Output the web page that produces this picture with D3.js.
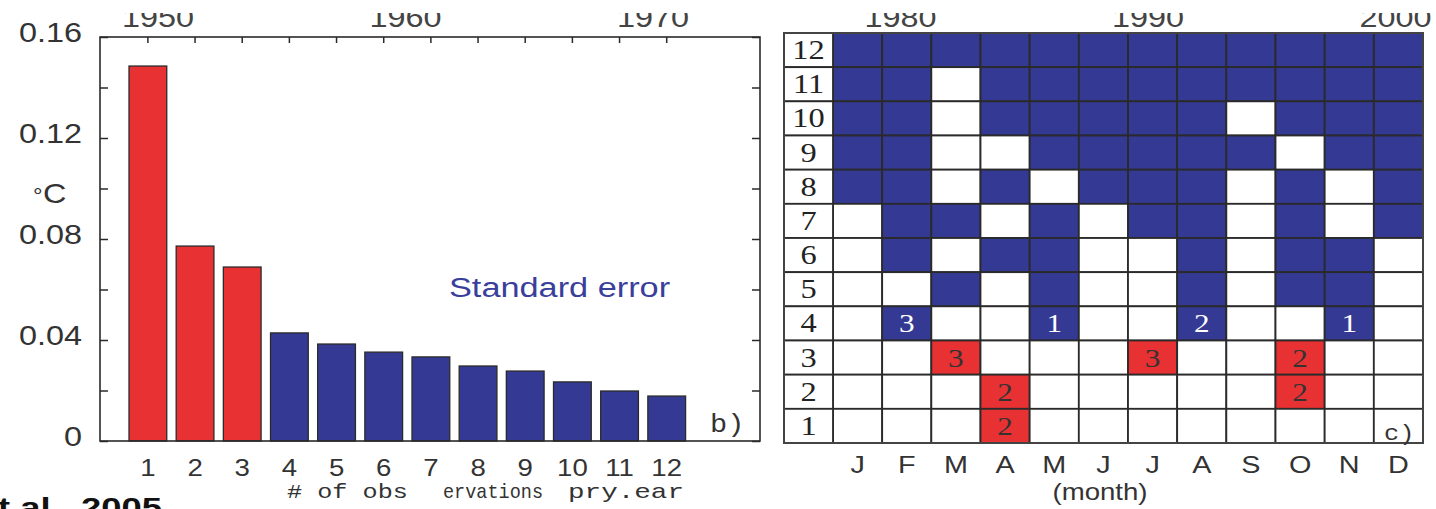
<!DOCTYPE html>
<html>
<head>
<meta charset="utf-8">
<script src="https://cdn.jsdelivr.net/npm/d3@7/dist/d3.min.js"></script>
<style>
  html, body { margin: 0; padding: 0; background: #fff; }
  svg { display: block; }
</style>
</head>
<body>
<svg id="chart" width="1436" height="509"></svg>
<script>
// ---------- DATA ----------
const obsCategories = ["1","2","3","4","5","6","7","8","9","10","11","12"];
const stdErrValues = [0.1485, 0.0772, 0.0689, 0.0428, 0.0384, 0.0352, 0.0333, 0.0297, 0.0277, 0.0234, 0.0198, 0.0178];
const barIsRed = [true, true, true, false, false, false, false, false, false, false, false, false];
const yTickValues = [0, 0.02, 0.04, 0.06, 0.08, 0.10, 0.12, 0.14, 0.16];
const yLabelValues = [0, 0.04, 0.08, 0.12, 0.16];
const yearTicks = [1950, 1960, 1970, 1980, 1990, 2000];

const monthLabels = ["J","F","M","A","M","J","J","A","S","O","N","D"];
const gridRowLabels = [12, 11, 10, 9, 8, 7, 6, 5, 4, 3, 2, 1];
// 0 = white, 1 = blue, 2 = red ; one array per row (12 at top ... 1 at bottom)
const gridStates = [
  [1,1,1,1,1,1,1,1,1,1,1,1],
  [1,1,0,1,1,1,1,1,1,1,1,1],
  [1,1,0,1,1,1,1,1,0,1,1,1],
  [1,1,0,0,1,1,1,1,1,0,1,1],
  [1,1,0,1,0,1,1,1,0,1,0,1],
  [0,1,1,0,1,0,1,1,0,1,0,1],
  [0,1,0,1,1,0,0,1,0,1,1,0],
  [0,0,1,0,1,0,0,1,0,1,1,0],
  [0,1,0,0,1,0,0,1,0,0,1,0],
  [0,0,2,0,0,0,2,0,0,2,0,0],
  [0,0,0,2,0,0,0,0,0,2,0,0],
  [0,0,0,2,0,0,0,0,0,0,0,0]
];
const cellNumbers = [
  {row: 4, month: 1, text: "3"}, {row: 4, month: 4, text: "1"},
  {row: 4, month: 7, text: "2"}, {row: 4, month: 10, text: "1"},
  {row: 3, month: 2, text: "3"}, {row: 3, month: 6, text: "3"},
  {row: 3, month: 9, text: "2"},
  {row: 2, month: 3, text: "2"}, {row: 2, month: 9, text: "2"},
  {row: 1, month: 3, text: "2"}
];

// ---------- STYLE ----------
const RED = "#e83133", BLUE = "#343a93", LINE = "#2a2a2a", TXT = "#333";
const SX = 1.2; // horizontal stretch of the original image
const sans = "'Liberation Sans', Arial, sans-serif";
const serif = "'Liberation Serif', 'Times New Roman', serif";
const mono = "'Liberation Mono', 'Courier New', monospace";

const svg = d3.select("#chart");

function stext(g, x, y, str, opts) {
  return g.append("text")
    .attr("transform", `translate(${x},${y}) scale(${opts.sx || SX},1)`)
    .attr("text-anchor", opts.anchor || "start")
    .attr("font-family", opts.font || sans)
    .attr("font-size", opts.size || 24)
    .attr("font-weight", opts.weight || "normal")
    .attr("fill", opts.fill || TXT)
    .text(str);
}

// ---------- LEFT PANEL ----------
const L = {x0: 100, x1: 760, y0: 37, y1: 441};
const x = d3.scaleBand().domain(obsCategories).range([124.3, 690.3]).paddingInner(0.2).paddingOuter(0.1);
const y = d3.scaleLinear().domain([0, 0.16]).range([L.y1, L.y0]);

const leftG = svg.append("g");
leftG.selectAll("rect.bar").data(stdErrValues).join("rect")
  .attr("class", "bar")
  .attr("x", (d, i) => x(obsCategories[i]))
  .attr("width", x.bandwidth())
  .attr("y", d => y(d))
  .attr("height", d => y(0) - y(d))
  .attr("fill", (d, i) => barIsRed[i] ? RED : BLUE)
  .attr("stroke", LINE).attr("stroke-width", 1.3);

// frame
leftG.append("rect").attr("x", L.x0).attr("y", L.y0).attr("width", L.x1 - L.x0).attr("height", L.y1 - L.y0)
  .attr("fill", "none").attr("stroke", LINE).attr("stroke-width", 1.6);

// inner ticks left / right / top
const tickL = leftG.append("g").attr("transform", `translate(${L.x0},0)`)
  .call(d3.axisRight(y).tickValues(yTickValues).tickSize(8).tickFormat(""));
const tickR = leftG.append("g").attr("transform", `translate(${L.x1},0)`)
  .call(d3.axisLeft(y).tickValues(yTickValues).tickSize(8).tickFormat(""));
const tickT = leftG.append("g").attr("transform", `translate(0,${L.y0})`)
  .call(d3.axisBottom(x).tickSize(6).tickFormat(""));
[tickL, tickR, tickT].forEach(g => {
  g.select(".domain").remove();
  g.selectAll("line").attr("stroke", LINE).attr("stroke-width", 1.5);
});

// y labels
const yLab = leftG.append("g").attr("transform", `translate(${L.x0},0)`)
  .call(d3.axisLeft(y).tickValues(yLabelValues).tickSize(0).tickPadding(15)
    .tickFormat(d => d === 0 ? "0" : d3.format(".2f")(d)));
yLab.select(".domain").remove();
yLab.selectAll("text")
  .attr("font-family", sans).attr("font-size", 27).attr("fill", TXT)
  .attr("dy", "0.18em")
  .attr("transform", `scale(${SX},1)`);

// °C label
stext(leftG, 33, 203, "°", {size: 20});
stext(leftG, 43, 203, "C", {size: 27});

// x labels
const xLab = leftG.append("g").attr("transform", `translate(0,${L.y1})`)
  .call(d3.axisBottom(x).tickSize(0).tickPadding(19));
xLab.select(".domain").remove();
xLab.selectAll("text")
  .attr("font-family", sans).attr("font-size", 23).attr("fill", TXT)
  .attr("transform", `scale(${SX},1)`);

// garbled x title (as in the source image)
stext(leftG, 287, 498, "# of obs", {font: mono, size: 21, sx: 1.2});
leftG.append("text").attr("x", 443).attr("y", 498).attr("font-family", mono).attr("font-size", 21).attr("fill", TXT)
  .attr("textLength", 100).attr("lengthAdjust", "spacingAndGlyphs").text("ervations");
leftG.append("text").attr("x", 568).attr("y", 498).attr("font-family", mono).attr("font-size", 21).attr("fill", TXT)
  .attr("textLength", 116).attr("lengthAdjust", "spacingAndGlyphs").text("pry.ear");

stext(leftG, 449, 297, "Standard error", {size: 27, fill: "#3a3f9c", sx: 1.27});
stext(leftG, 710, 432, "b)", {font: mono, size: 26, sx: 1.1});

// ---------- RIGHT PANEL ----------
const R = {lx: 784, x0: 833, x1: 1423, y0: 33, y1: 443};
const mIdx = d3.range(12);
const gx = d3.scaleBand().domain(mIdx).range([R.x0, R.x1]);
const gy = d3.scaleBand().domain(gridRowLabels).range([R.y0, R.y1]);
const colorOf = s => s === 1 ? BLUE : s === 2 ? RED : "#fff";

const rightG = svg.append("g");
const cells = [];
gridStates.forEach((rowArr, ri) => rowArr.forEach((s, mi) => cells.push({row: gridRowLabels[ri], m: mi, s})));
rightG.selectAll("rect.cell").data(cells).join("rect")
  .attr("class", "cell")
  .attr("x", d => gx(d.m)).attr("y", d => gy(d.row))
  .attr("width", gx.bandwidth()).attr("height", gy.bandwidth())
  .attr("fill", d => colorOf(d.s))
  .attr("stroke", LINE).attr("stroke-width", 1.8);
// label column
rightG.selectAll("rect.lab").data(gridRowLabels).join("rect")
  .attr("class", "lab")
  .attr("x", R.lx).attr("y", d => gy(d))
  .attr("width", R.x0 - R.lx).attr("height", gy.bandwidth())
  .attr("fill", "#fff").attr("stroke", LINE).attr("stroke-width", 1.8);
rightG.selectAll("text.rl").data(gridRowLabels).join("text")
  .attr("class", "rl")
  .attr("transform", d => `translate(${(R.lx + R.x0) / 2},${gy(d) + gy.bandwidth() / 2 + 9}) scale(${SX},1)`)
  .attr("text-anchor", "middle").attr("font-family", serif).attr("font-size", 27).attr("fill", "#222")
  .text(d => d);
// cell numbers
rightG.selectAll("text.cn").data(cellNumbers).join("text")
  .attr("class", "cn")
  .attr("transform", d => `translate(${gx(d.month) + gx.bandwidth() / 2},${gy(d.row) + gy.bandwidth() / 2 + 9}) scale(${SX},1)`)
  .attr("text-anchor", "middle").attr("font-family", serif).attr("font-size", 26)
  .attr("fill", d => gridStates[gridRowLabels.indexOf(d.row)][d.month] === 1 ? "#fff" : "#333")
  .text(d => d.text);
// outer frame
rightG.append("rect").attr("x", R.lx).attr("y", R.y0).attr("width", R.x1 - R.lx).attr("height", R.y1 - R.y0)
  .attr("fill", "none").attr("stroke", "#444").attr("stroke-width", 2);

// month labels
const mLab = rightG.append("g").attr("transform", `translate(0,${R.y1})`)
  .call(d3.axisBottom(gx).tickSize(0).tickPadding(13).tickFormat(i => monthLabels[i]));
mLab.select(".domain").remove();
mLab.selectAll("text")
  .attr("font-family", sans).attr("font-size", 24).attr("fill", TXT)
  .attr("transform", `scale(${SX},1)`);
stext(rightG, 1100, 500, "(month)", {size: 23, anchor: "middle"});
stext(rightG, 1384, 440, "c)", {font: mono, size: 22, sx: 1.15});

// ---------- TOP YEAR LABELS (clipped, as in the source image) ----------
const yearScale = d3.scaleLinear().domain([1950, 2000]).range([157.5, 1395]);
const yearAxis = svg.append("g").attr("transform", "translate(0,27)")
  .call(d3.axisTop(yearScale).tickValues(yearTicks).tickSize(0).tickPadding(0).tickFormat(d3.format("d")));
yearAxis.select(".domain").remove();
yearAxis.selectAll("text")
  .attr("font-family", sans).attr("font-size", 27).attr("fill", "#444")
  .attr("dy", "0")
  .attr("transform", `scale(${SX},1)`);
svg.append("rect").attr("x", 0).attr("y", 0).attr("width", 1436).attr("height", 13).attr("fill", "#fff");

// ---------- CITATION (cut off by the image edge) ----------
stext(svg, 162, 517, "Kent et al., 2005", {size: 28, weight: "bold", anchor: "end", fill: "#111", sx: 1.3});
</script>
</body>
</html>
